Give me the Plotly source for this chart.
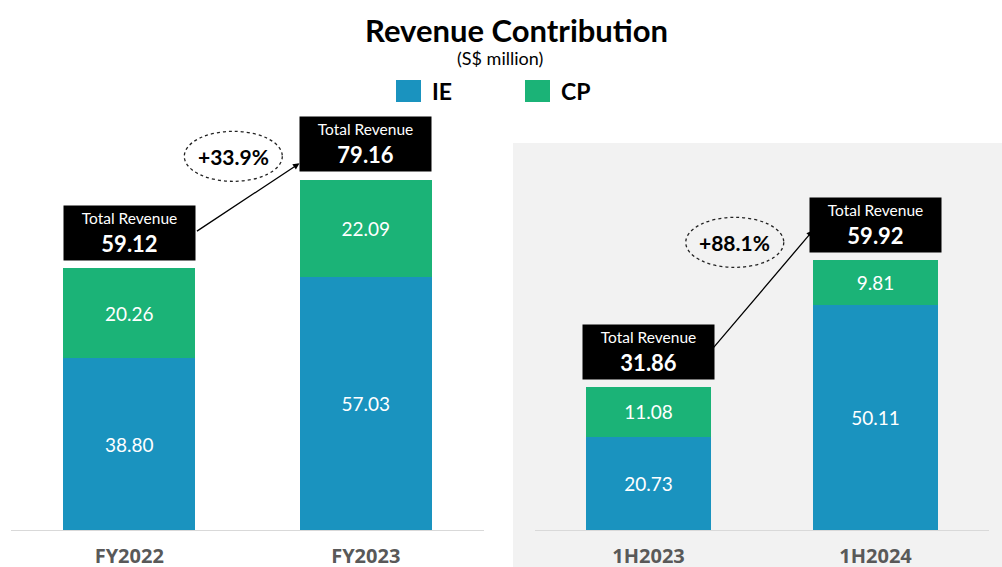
import plotly.graph_objects as go

# ---------------- data ----------------
fy_categories = ["FY2022", "FY2023"]
fy_ie = [38.80, 57.03]
fy_cp = [20.26, 22.09]
fy_total = [59.12, 79.16]

h_categories = ["1H2023", "1H2024"]
h_ie = [20.73, 50.11]
h_cp = [11.08, 9.81]
h_total = [31.86, 59.92]

series_names = ["IE", "CP"]
series_colors = ["#1A93BF", "#1BB377"]

W, H = 1002, 567
BASE_PX = 530            # baseline pixel row
LEFT_SCALE = 4.43        # px per unit (left panel)
RIGHT_SCALE = 4.5        # px per unit (right panel)

CAL = "Lato, 'Open Sans', sans-serif"
OS = "Open Sans"

fig = go.Figure()

panels = [
    dict(cats=fy_categories, ie=fy_ie, cp=fy_cp, tot=fy_total, xa="x", ya="y",
         scale=LEFT_SCALE, width=0.56, ell_x=0.44, ell_dy=23, head_dy=16, tail_dy=36),
    dict(cats=h_categories, ie=h_ie, cp=h_cp, tot=h_total, xa="x2", ya="y2",
         scale=RIGHT_SCALE, width=0.55, ell_x=0.38, ell_dy=18, head_dy=30, tail_dy=36),
]

annotations = []
shapes = []

# grey background of the right panel
shapes.append(dict(type="rect", xref="paper", yref="paper", x0=513 / W, x1=1, y0=0,
                   y1=(H - 143) / H, fillcolor="#F2F2F2", line=dict(width=0), layer="below"))

for p in panels:
    for name, vals, col in zip(series_names, [p["ie"], p["cp"]], series_colors):
        fig.add_trace(go.Bar(
            x=p["cats"], y=vals, name=name, marker=dict(color=col, line=dict(width=0)),
            width=p["width"], xaxis=p["xa"], yaxis=p["ya"], showlegend=False,
            text=[f"{v:.2f}" for v in vals], textposition="inside",
            insidetextanchor="middle", textangle=0,
            textfont=dict(family=CAL, size=19, color="white"),
            hoverinfo="skip"))
    # total boxes
    for c, t in zip(p["cats"], p["tot"]):
        annotations.append(dict(
            x=c, y=t, xref=p["xa"], yref=p["ya"], yanchor="bottom", yshift=7,
            text=f"<span style='font-size:15.5px'>Total Revenue</span><br><b>{t:.2f}</b>",
            showarrow=False, bgcolor="black", width=131, height=54, borderpad=0,
            font=dict(family=CAL, size=22, color="white"), align="center", valign="middle"))
    s = p["scale"]
    half = p["width"] / 2
    t0, t1 = p["tot"]
    # arrow
    annotations.append(dict(
        x=1 - half, y=t1 + p["head_dy"] / s, ax=half, ay=t0 + p["tail_dy"] / s,
        xref=p["xa"], yref=p["ya"], axref=p["xa"], ayref=p["ya"],
        text="", showarrow=True, arrowhead=2, arrowsize=1, arrowwidth=1.3,
        arrowcolor="black", standoff=0, startstandoff=0))
    # growth ellipse
    growth = (t1 / t0 - 1) * 100
    ey = t1 + p["ell_dy"] / s
    shapes.append(dict(type="circle", xref=p["xa"], yref=p["ya"],
                       xsizemode="pixel", ysizemode="pixel",
                       xanchor=p["ell_x"], yanchor=ey, x0=-49, x1=49, y0=-25, y1=25,
                       line=dict(color="#222222", width=1.3, dash="dot"),
                       fillcolor="rgba(0,0,0,0)"))
    annotations.append(dict(x=p["ell_x"], y=ey, xref=p["xa"], yref=p["ya"],
                            yanchor="middle", xanchor="center",
                            text=f"<b>+{growth:.1f}%</b>", showarrow=False,
                            font=dict(family=CAL, size=21, color="black")))

# title & subtitle
annotations.append(dict(x=516 / W, y=(H - 30) / H, xref="paper", yref="paper",
                        xanchor="center", yanchor="middle",
                        text="<b>Revenue Contribution</b>", showarrow=False,
                        font=dict(family=CAL, size=31, color="black")))
annotations.append(dict(x=500 / W, y=(H - 58) / H, xref="paper", yref="paper",
                        xanchor="center", yanchor="middle",
                        text="(S$ million)", showarrow=False,
                        font=dict(family=CAL, size=18, color="black")))

# legend (drawn)
legend_sq_x = [396, 525]
for name, col, lx in zip(series_names, series_colors, legend_sq_x):
    shapes.append(dict(type="rect", xref="paper", yref="paper",
                       x0=lx / W, x1=(lx + 25) / W, y0=(H - 102) / H, y1=(H - 80) / H,
                       fillcolor=col, line=dict(width=0)))
    annotations.append(dict(x=(lx + 34) / W, y=(H - 91) / H, xref="paper", yref="paper",
                            xanchor="left", yanchor="middle",
                            text=f"<b>{name}</b>", showarrow=False,
                            font=dict(family=CAL, size=23, color="black")))

ydom = [(H - BASE_PX) / H, 1]
axis_common = dict(type="category", range=[-0.5, 1.5], showline=True, linecolor="#D9D9D9",
                   linewidth=1, showgrid=False, zeroline=False, ticks="", automargin=False,
                   tickfont=dict(family=OS, size=20, color="#595959", weight="bold"),
                   ticklabelstandoff=8, fixedrange=True)

fig.update_layout(
    width=W, height=H, margin=dict(l=0, r=0, t=0, b=0, autoexpand=False),
    paper_bgcolor="white", plot_bgcolor="rgba(0,0,0,0)",
    barmode="stack", showlegend=False,
    xaxis=dict(domain=[11 / W, 484 / W], anchor="y", **axis_common),
    xaxis2=dict(domain=[535 / W, 989 / W], anchor="y2", **axis_common),
    yaxis=dict(domain=ydom, range=[0, BASE_PX / LEFT_SCALE], visible=False, fixedrange=True,
               automargin=False),
    yaxis2=dict(domain=ydom, range=[0, BASE_PX / RIGHT_SCALE], visible=False, fixedrange=True,
                automargin=False),
    annotations=annotations, shapes=shapes,
)

fig.write_html("out.html", config={"displayModeBar": False},
               post_script="document.body.style.margin='0';")
